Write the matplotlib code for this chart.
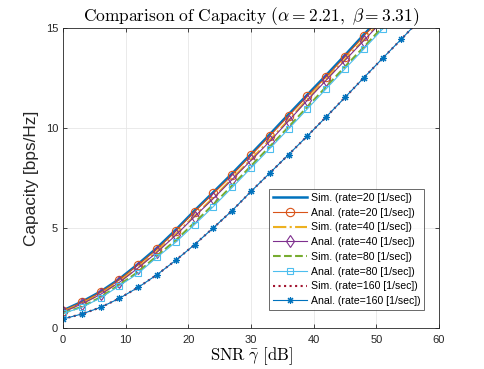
import matplotlib
matplotlib.use("Agg")
import matplotlib.pyplot as plt

plt.rcParams['font.family'] = ['Liberation Sans', 'DejaVu Sans']
plt.rcParams['mathtext.fontset'] = 'cm'

snr = [0, 3, 6, 9, 12, 15, 18, 21, 24, 27, 30, 33, 36, 39, 42, 45, 48, 51, 54, 57, 60]

anal_20 = [0.88, 1.30, 1.80, 2.43, 3.17, 3.95, 4.85, 5.82, 6.73, 7.65, 8.63, 9.60, 10.60, 11.58, 12.55, 13.55, 14.58, 15.55, 16.55, 17.55, 18.55]
sim_20 = [0.90, 1.33, 1.84, 2.47, 3.22, 4.02, 4.92, 5.88, 6.80, 7.73, 8.70, 9.68, 10.68, 11.66, 12.63, 13.63, 14.65, 15.63, 16.63, 17.63, 18.63]
anal_40 = [0.82, 1.22, 1.70, 2.30, 3.02, 3.80, 4.65, 5.58, 6.48, 7.43, 8.38, 9.33, 10.35, 11.38, 12.38, 13.37, 14.35, 15.35, 16.35, 17.35, 18.35]
sim_40 = [0.83, 1.24, 1.72, 2.33, 3.05, 3.84, 4.70, 5.62, 6.53, 7.48, 8.43, 9.40, 10.40, 11.43, 12.43, 13.42, 14.40, 15.40, 16.40, 17.40, 18.40]
anal_80 = [0.75, 1.05, 1.52, 2.13, 2.75, 3.55, 4.30, 5.18, 6.08, 7.03, 8.00, 8.97, 9.95, 10.95, 11.95, 12.95, 13.93, 14.93, 15.93, 16.93, 17.93]
sim_80 = [0.76, 1.08, 1.56, 2.18, 2.82, 3.62, 4.40, 5.28, 6.18, 7.13, 8.10, 9.07, 10.05, 11.05, 12.05, 13.05, 14.03, 15.03, 16.03, 17.03, 18.03]
anal_160 = [0.47, 0.72, 1.05, 1.50, 2.05, 2.68, 3.40, 4.18, 5.02, 5.88, 6.83, 7.75, 8.67, 9.60, 10.55, 11.52, 12.50, 13.47, 14.43, 15.40, 16.40]
sim_160 = [0.47, 0.72, 1.05, 1.50, 2.05, 2.68, 3.40, 4.18, 5.02, 5.88, 6.83, 7.75, 8.67, 9.60, 10.55, 11.52, 12.50, 13.47, 14.43, 15.40, 16.40]

labels = ['Sim. (rate=20 [1/sec])', 'Anal. (rate=20 [1/sec])',
          'Sim. (rate=40 [1/sec])', 'Anal. (rate=40 [1/sec])',
          'Sim. (rate=80 [1/sec])', 'Anal. (rate=80 [1/sec])',
          'Sim. (rate=160 [1/sec])', 'Anal. (rate=160 [1/sec])']

fig = plt.figure(figsize=(4.85, 3.69), dpi=100)
ax = fig.add_axes([0.13, 0.11, 0.775, 0.815])

ax.plot(snr, sim_20, '-', color='#0072BD', lw=1.8, label=labels[0])
ax.plot(snr, anal_20, '-o', color='#D95319', lw=0.8, ms=6, mfc='none', mew=0.8, label=labels[1])
ax.plot(snr, sim_40, '-.', color='#EDB120', lw=1.5, label=labels[2])
ax.plot(snr, anal_40, '-d', color='#7E2F8E', lw=0.8, ms=6, mfc='none', mew=0.8, label=labels[3])
ax.plot(snr, sim_80, '--', color='#77AC30', lw=1.5, label=labels[4])
ax.plot(snr, anal_80, '-s', color='#4DBEEE', lw=0.8, ms=5, mfc='none', mew=0.8, label=labels[5])
ax.plot(snr, sim_160, ':', color='#A2142F', lw=1.5, label=labels[6])
ax.plot(snr, anal_160, '-', marker=(8, 2, 0), color='#0072BD', lw=0.8, ms=5, mew=0.8, label=labels[7])

ax.set_xlim(0, 60)
ax.set_ylim(0, 15)
ax.set_xticks([0, 10, 20, 30, 40, 50, 60])
ax.set_yticks([0, 5, 10, 15])
ax.grid(True, color='#E6E6E6', lw=0.6)
ax.set_axisbelow(True)
for s in ax.spines.values():
    s.set_color('#262626')
    s.set_linewidth(0.6)
ax.tick_params(direction='in', length=3, width=0.6, top=True, right=True,
               labelsize=8, colors='#262626')
ax.tick_params(axis='x', pad=5)

ax.set_title(r'$\mathrm{Comparison\ of\ Capacity\ (}\alpha=2.21\mathrm{,\ }\beta=3.31\mathrm{)}$',
             fontsize=12.5, pad=5)
ax.set_xlabel(r'$\mathrm{SNR}\ \bar{\gamma}\ \mathrm{[dB]}$', fontsize=12, labelpad=0)
ax.set_ylabel('Capacity [bps/Hz]', fontsize=12.4, color='#262626', labelpad=5,
              family=['Liberation Sans', 'DejaVu Sans'])

leg = ax.legend(loc='lower right', bbox_to_anchor=(0.96, 0.062), borderaxespad=0,
                fontsize=7.6, frameon=True, fancybox=False,
                edgecolor='#262626', borderpad=0.35, labelspacing=0.45,
                handlelength=3.3, handletextpad=0.3)
leg.get_frame().set_linewidth(0.6)

fig.savefig('out.png', dpi=100)
